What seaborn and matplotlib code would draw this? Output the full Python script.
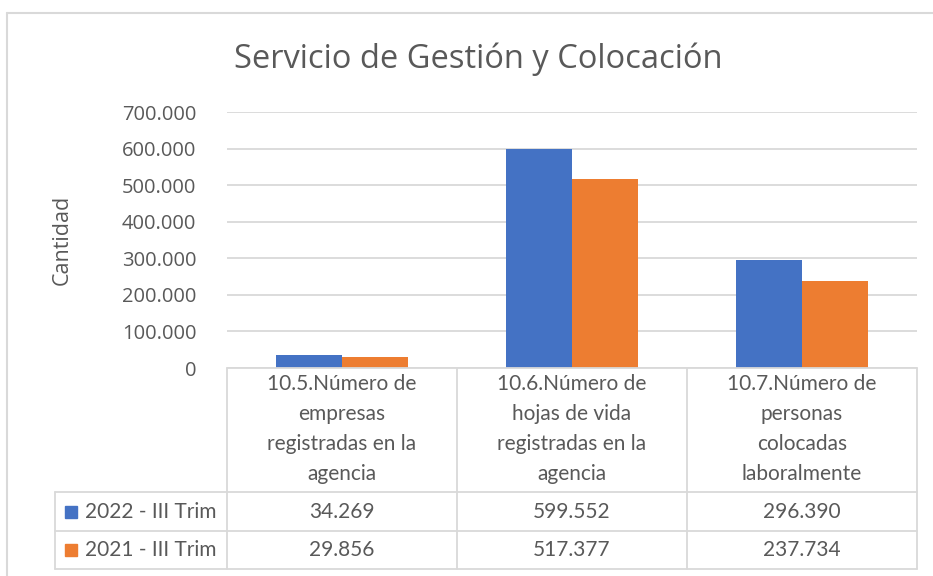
import matplotlib
matplotlib.use("Agg")
import matplotlib.pyplot as plt
from matplotlib.lines import Line2D
from matplotlib.patches import Rectangle
from matplotlib.ticker import FuncFormatter
import pandas as pd
import seaborn as sns

categorias = ["10.5.Número de\nempresas\nregistradas en la\nagencia",
              "10.6.Número de\nhojas de vida\nregistradas en la\nagencia",
              "10.7.Número de\npersonas\ncolocadas\nlaboralmente"]
series = ["2022 - III Trim", "2021 - III Trim"]
v2022 = [34269, 599552, 296390]
v2021 = [29856, 517377, 237734]
colores = ["#4472C4", "#ED7D31"]

df = pd.DataFrame({
    "cat": categorias * 2,
    "serie": [series[0]] * 3 + [series[1]] * 3,
    "valor": v2022 + v2021,
})

def miles(v, pos=None):
    return f"{int(v):,}".replace(",", ".")

sns.set_theme(style="white")
plt.rcParams["font.family"] = ["Open Sans", "DejaVu Sans"]
gris = "#595959"
linea = "#D9D9D9"
tabla_font = ["Lato", "DejaVu Sans"]

W, H = 933, 576
fig = plt.figure(figsize=(W / 100, H / 100), dpi=100)

def fx(x):
    return x / W

def fy(y):
    return 1 - y / H

x0, x1, ytop, ybase = 227, 917, 112, 368
ax = fig.add_axes([fx(x0), fy(ybase), fx(x1) - fx(x0), fy(ytop) - fy(ybase)])
sns.barplot(data=df, x="cat", y="valor", hue="serie", palette=colores,
            width=0.575, gap=0, saturation=1, legend=False, linewidth=0, ax=ax)
ax.set_xlim(-0.5, 2.5)
ax.set_ylim(0, 700000)
ax.set_yticks(range(0, 700001, 100000))
ax.yaxis.set_major_formatter(FuncFormatter(miles))
ax.tick_params(axis="y", labelsize=14.5, labelcolor=gris, length=0, pad=22)
ax.set_xticks([])
ax.set_xlabel("")
ax.set_ylabel("")
ax.grid(axis="y", color=linea, linewidth=1.3)
ax.set_axisbelow(True)
for s in ax.spines.values():
    s.set_visible(False)

fig.text(fx(478), fy(59), "Servicio de Gestión y Colocación", ha="center",
         va="center", fontsize=23.5, color=gris)
fig.text(fx(62), fy(240), "Cantidad", rotation=90, ha="center", va="center",
         fontsize=15.5, color=gris)

# marco del grafico
fig.add_artist(Line2D([fx(7), fx(7)], [fy(13), fy(576)], color=linea, lw=1.5))
fig.add_artist(Line2D([fx(7), fx(933)], [fy(13), fy(13)], color=linea, lw=1.5))

# tabla de datos
cols = [227, 457, 687, 917]
filas = [368, 492, 531, 569]
def hline(y, xa, xb):
    fig.add_artist(Line2D([fx(xa), fx(xb)], [fy(y), fy(y)], color=linea, lw=1.3))
def vline(x, ya, yb):
    fig.add_artist(Line2D([fx(x), fx(x)], [fy(ya), fy(yb)], color=linea, lw=1.3))

hline(368, 227, 917)
for y in filas[1:]:
    hline(y, 55, 917)
for x in cols:
    vline(x, 368, 569)
vline(55, 492, 569)

for i, cat in enumerate(categorias):
    cx = (cols[i] + cols[i + 1]) / 2
    fig.text(fx(cx), fy(429), cat, ha="center", va="center", fontsize=15,
             color=gris, family=tabla_font, linespacing=1.62)

for j, vals in enumerate([v2022, v2021]):
    cy = (filas[j + 1] + filas[j + 2]) / 2
    fig.add_artist(Rectangle((fx(65), fy(cy + 6)), 12 / W, 12 / H,
                             color=colores[j], transform=fig.transFigure))
    fig.text(fx(85), fy(cy), series[j], ha="left", va="center", fontsize=15,
             color=gris, family=tabla_font)
    for i, v in enumerate(vals):
        cx = (cols[i] + cols[i + 1]) / 2
        fig.text(fx(cx), fy(cy), miles(v), ha="center", va="center",
                 fontsize=15, color=gris, family=tabla_font)

fig.savefig("out.png", dpi=100, facecolor="white")
